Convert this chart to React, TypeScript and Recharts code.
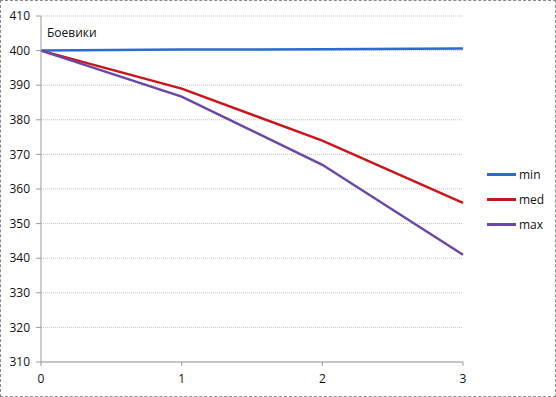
import React from 'react';
import { LineChart, Line, XAxis, YAxis, CartesianGrid } from 'recharts';

const steps = [0, 1, 2, 3];
const minValues = [400, 400.3, 400.4, 400.6];
const medValues = [400, 389, 374, 356];
const maxValues = [400, 386.7, 367, 341];
const yTicks = [310, 320, 330, 340, 350, 360, 370, 380, 390, 400, 410];

const series = [
  { key: 'min', color: '#2e6bd0' },
  { key: 'med', color: '#c8161d' },
  { key: 'max', color: '#6a48a8' },
];

const font = '"Open Sans", "Noto Sans", sans-serif';

const App: React.FC = () => {
  const data = steps.map((s, i) => ({
    step: s,
    min: minValues[i],
    med: medValues[i],
    max: maxValues[i],
  }));

  return (
    <div
      style={{
        position: 'absolute',
        left: 0,
        top: 0,
        width: 556,
        height: 397,
        boxSizing: 'border-box',
        border: '1px dashed #8a8a8a',
        background: '#fff',
        fontFamily: font,
      }}
    >
      <LineChart
        width={554}
        height={395}
        data={data}
        margin={{ top: 15, right: 92, left: 0, bottom: 0 }}
      >
        <CartesianGrid horizontal vertical={false} stroke="#c4c4c4" strokeDasharray="1 1" />
        <XAxis
          dataKey="step"
          type="number"
          domain={[0, 3]}
          ticks={steps}
          height={34}
          stroke="#9a9a9a"
          tickSize={4}
          tick={{ fill: '#111', fontSize: 12, fontFamily: font }}
          tickMargin={8}
        />
        <YAxis
          domain={[310, 410]}
          ticks={yTicks}
          width={40}
          stroke="#9a9a9a"
          tickSize={5}
          tickMargin={6}
          interval={0}
          tick={{ fill: '#111', fontSize: 12, fontFamily: font }}
        />
        {series.map(s => (
          <Line
            key={s.key}
            type="linear"
            dataKey={s.key}
            stroke={s.color}
            strokeWidth={2.5}
            dot={false}
            isAnimationActive={false}
          />
        ))}
      </LineChart>
      <div
        style={{
          position: 'absolute',
          left: 46,
          top: 23,
          fontSize: 12,
          color: '#111',
        }}
      >
        Боевики
      </div>
      <div style={{ position: 'absolute', left: 486, top: 161 }}>
        {series.map(s => (
          <div key={s.key} style={{ display: 'flex', alignItems: 'center', height: 25 }}>
            <span style={{ display: 'inline-block', width: 29, height: 3, background: s.color, marginRight: 3 }} />
            <span style={{ fontSize: 12, color: '#111' }}>{s.key}</span>
          </div>
        ))}
      </div>
    </div>
  );
};

export default App;
